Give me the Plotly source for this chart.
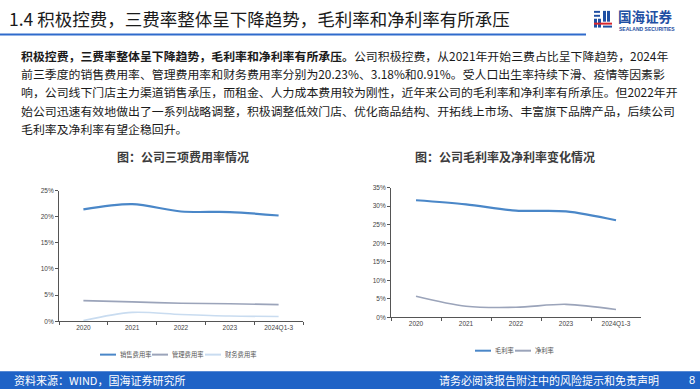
import plotly.graph_objects as go

W, H = 700, 392

# ---------------- data ----------------
years = ["2020", "2021", "2022", "2023", "2024Q1-3"]
sales_rate = [21.4, 22.4, 21.0, 20.9, 20.23]
admin_rate = [3.95, 3.7, 3.45, 3.35, 3.18]
fin_rate = [0.15, 1.7, 1.3, 1.0, 0.91]
gross_margin = [31.6, 30.5, 28.8, 28.6, 26.2]
net_margin = [5.7, 3.0, 2.7, 3.5, 2.1]

names1 = ["销售费用率", "管理费用率", "财务费用率"]
names2 = ["毛利率", "净利率"]
colors1 = ["#4a87c8", "#9ba4ba", "#c9dcf0"]
colors2 = ["#4a87c8", "#9ba4ba"]

title_text = "1.4 积极控费，三费率整体呈下降趋势，毛利率和净利率有所承压"
para_lines = [
    "<b>积极控费，三费率整体呈下降趋势，毛利率和净利率有所承压。</b>公司积极控费，从2021年开始三费占比呈下降趋势，2024年",
    "前三季度的销售费用率、管理费用率和财务费用率分别为20.23%、3.18%和0.91%。受人口出生率持续下滑、疫情等因素影",
    "响，公司线下门店主力渠道销售承压，而租金、人力成本费用较为刚性，近年来公司的毛利率和净利率有所承压。但2022年开",
    "始公司迅速有效地做出了一系列战略调整，积极调整低效门店、优化商品结构、开拓线上市场、丰富旗下品牌产品，后续公司",
    "毛利率及净利率有望企稳回升。",
]
chart1_title = "图：公司三项费用率情况"
chart2_title = "图：公司毛利率及净利率变化情况"
footer_left = "资料来源：WIND，国海证券研究所"
footer_right = "请务必阅读报告附注中的风险提示和免责声明"
page_no = "8"

CJK = "Noto Sans CJK SC"
LAT = "Liberation Sans"


def px(x):
    return x / W


def py(y):
    return 1 - y / H


fig = go.Figure()

series1 = [sales_rate, admin_rate, fin_rate]
for name, vals, c, w in zip(names1, series1, colors1, [2.2, 1.6, 1.6]):
    fig.add_trace(go.Scatter(x=years, y=vals, name=name, mode="lines",
                             line=dict(color=c, width=w, shape="spline", smoothing=0.9),
                             xaxis="x", yaxis="y", showlegend=False))
series2 = [gross_margin, net_margin]
for name, vals, c, w in zip(names2, series2, colors2, [2.2, 1.6]):
    fig.add_trace(go.Scatter(x=years, y=vals, name=name, mode="lines",
                             line=dict(color=c, width=w, shape="spline", smoothing=0.9),
                             xaxis="x2", yaxis="y2", showlegend=False))

axis_common = dict(showgrid=False, zeroline=False, showline=True, linecolor="#555555",
                   linewidth=1, ticks="outside", ticklen=3, tickcolor="#555555",
                   tickfont=dict(family=LAT, size=6.5, color="#444444"))

xa = dict(axis_common, type="category", range=[-0.5, 4.5], tickson="boundaries",
          fixedrange=True)
fig.update_layout(
    width=W, height=H, margin=dict(l=0, r=0, t=0, b=0),
    paper_bgcolor="white", plot_bgcolor="rgba(0,0,0,0)",
    xaxis=dict(xa, domain=[px(59), px(303)], anchor="y"),
    yaxis=dict(axis_common, domain=[py(323), py(190)], range=[0, 25], dtick=5,
               ticksuffix="%", anchor="x"),
    xaxis2=dict(xa, domain=[px(391), px(641)], anchor="y2"),
    yaxis2=dict(axis_common, domain=[py(319), py(187)], range=[0, 35], dtick=5,
                ticksuffix="%", anchor="x2"),
    font=dict(family=CJK),
)

shapes = []
ann = []

# header
ann.append(dict(x=px(7), y=py(15), xref="paper", yref="paper", xanchor="left", yanchor="middle",
                text=title_text, showarrow=False,
                font=dict(family=CJK, size=17.5, color="#1a1a1a")))
shapes.append(dict(type="line", xref="paper", yref="paper", x0=0, x1=px(586), y0=py(31), y1=py(31),
                   line=dict(color="#2f6bcc", width=2)))

# logo
logo_blue = "#1f4fa3"
logo_red = "#d9262c"
for (x0, y0, x1, y1, c) in [
    (594, 7, 600, 9, logo_blue), (594, 11, 600, 13, logo_blue), (594, 15, 597, 24, logo_blue),
    (598, 15, 601, 24, logo_blue), (603, 7, 606, 18, logo_blue), (607, 7, 610, 18, logo_blue),
    (594, 19, 612, 21, logo_red), (603, 22, 612, 24, logo_blue),
]:
    shapes.append(dict(type="rect", xref="paper", yref="paper", x0=px(x0), x1=px(x1),
                       y0=py(y1), y1=py(y0), fillcolor=c, line=dict(width=0)))
ann.append(dict(x=px(616), y=py(12), xref="paper", yref="paper", xanchor="left", yanchor="middle",
                text="<b>国海证券</b>", showarrow=False,
                font=dict(family=CJK, size=13.5, color=logo_blue)))
ann.append(dict(x=px(617), y=py(25), xref="paper", yref="paper", xanchor="left", yanchor="middle",
                text="<b>SEALAND SECURITIES</b>", showarrow=False,
                font=dict(family=LAT, size=5, color=logo_blue)))

# paragraph
for i, line in enumerate(para_lines):
    ann.append(dict(x=px(19), y=py(52 + i * 18.7), xref="paper", yref="paper",
                    xanchor="left", yanchor="middle", text=line, showarrow=False,
                    font=dict(family=CJK, size=11.9, color="#1a1a1a")))

# chart titles
ann.append(dict(x=px(183), y=py(155), xref="paper", yref="paper", xanchor="center", yanchor="middle",
                text="<b>" + chart1_title + "</b>", showarrow=False,
                font=dict(family=CJK, size=12, color="#3c3c3c")))
ann.append(dict(x=px(505), y=py(155), xref="paper", yref="paper", xanchor="center", yanchor="middle",
                text="<b>" + chart2_title + "</b>", showarrow=False,
                font=dict(family=CJK, size=12, color="#3c3c3c")))


# legends (manual)
def legend(names, colors, x_start, y, gaps):
    x = x_start
    for n, c, g in zip(names, colors, gaps):
        shapes.append(dict(type="line", xref="paper", yref="paper", x0=px(x), x1=px(x + 16),
                           y0=py(y), y1=py(y), line=dict(color=c, width=2)))
        ann.append(dict(x=px(x + 18), y=py(y), xref="paper", yref="paper", xanchor="left",
                        yanchor="middle", text=n, showarrow=False,
                        font=dict(family=CJK, size=6.3, color="#555555")))
        x += g


legend(names1, colors1, 100, 357, [52, 53, 53])
legend(names2, colors2, 475, 353, [40, 40])

# footer
shapes.append(dict(type="rect", xref="paper", yref="paper", x0=0, x1=1, y0=0, y1=py(374),
                   fillcolor="#1f63c6", line=dict(width=0)))
ann.append(dict(x=px(12), y=py(383), xref="paper", yref="paper", xanchor="left", yanchor="middle",
                text=footer_left, showarrow=False, font=dict(family=CJK, size=11, color="white")))
ann.append(dict(x=px(661), y=py(383), xref="paper", yref="paper", xanchor="right", yanchor="middle",
                text=footer_right, showarrow=False, font=dict(family=CJK, size=11, color="white")))
ann.append(dict(x=px(692), y=py(383), xref="paper", yref="paper", xanchor="center", yanchor="middle",
                text=page_no, showarrow=False, font=dict(family=LAT, size=11, color="white")))

fig.update_layout(shapes=shapes, annotations=ann)
fig.write_html("out.html", config={"displayModeBar": False},
               post_script="document.body.style.margin='0px';")
